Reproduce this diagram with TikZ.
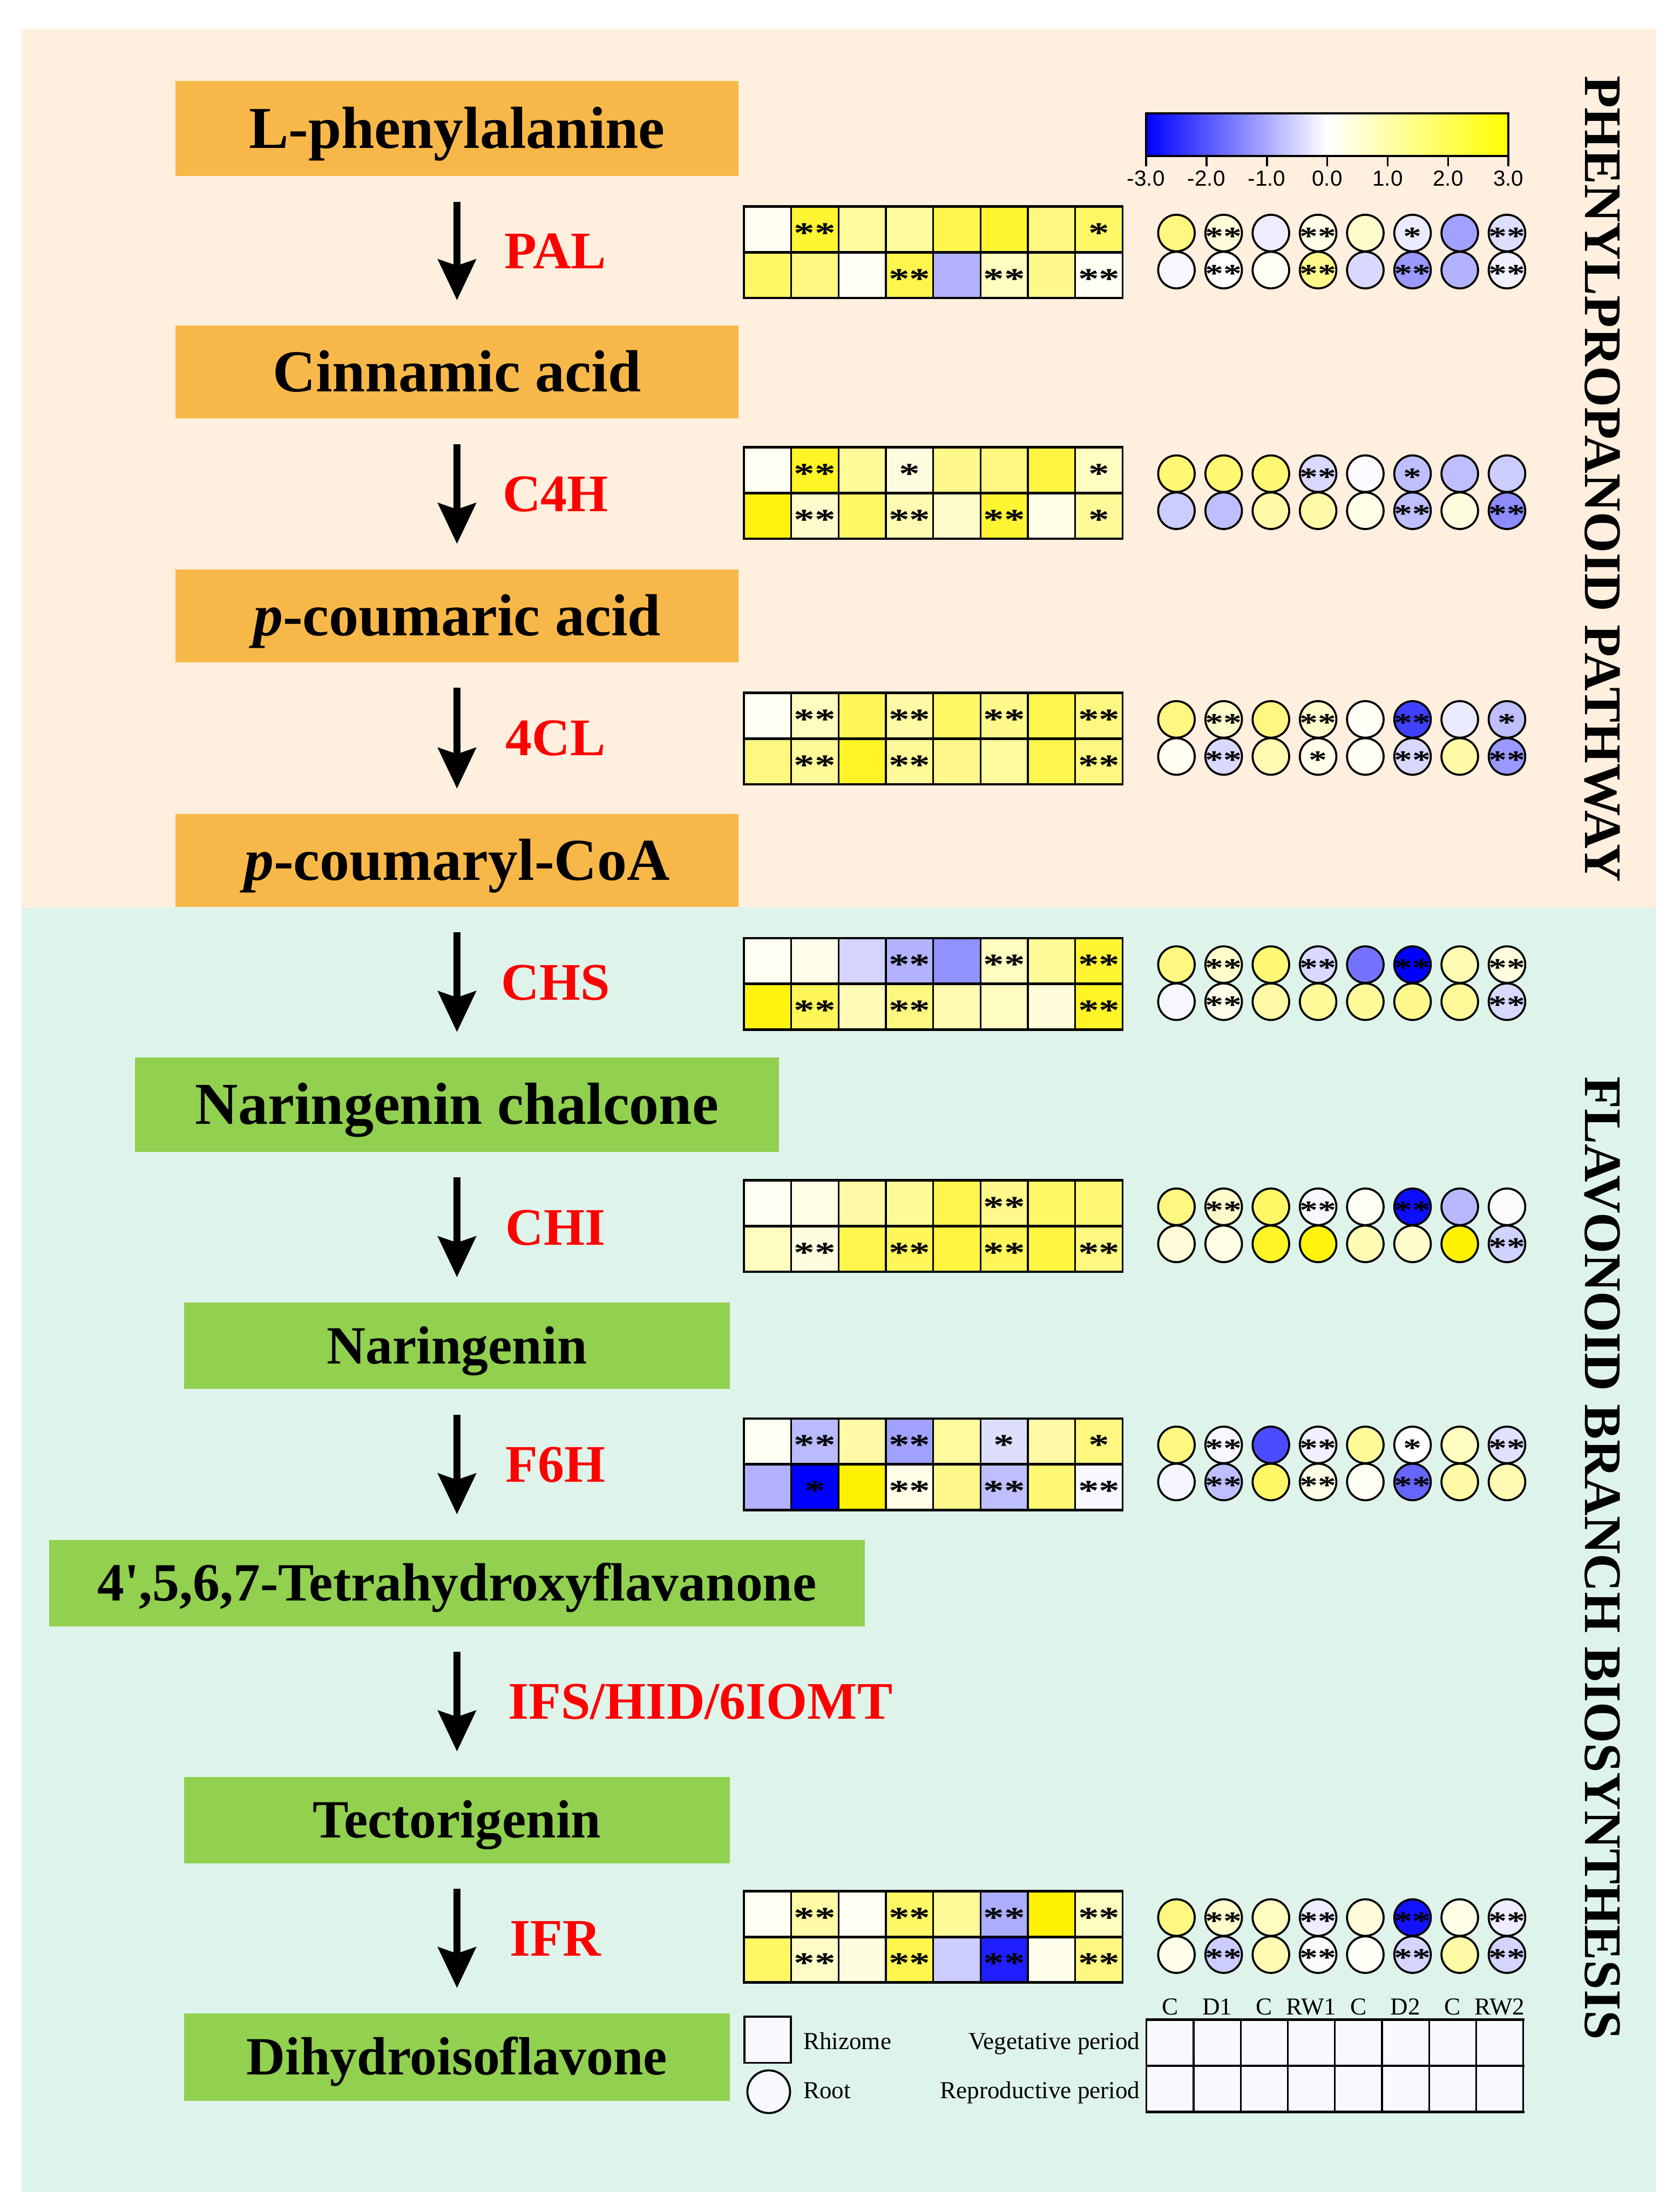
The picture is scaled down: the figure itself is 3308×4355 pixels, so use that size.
\documentclass[tikz,border=0pt]{standalone}
\usepackage{fontspec}
\setmainfont{Liberation Serif}
\setsansfont{Liberation Sans}
\usetikzlibrary{arrows.meta}
\definecolor{beige}{RGB}{254,239,222}
\definecolor{mint}{RGB}{222,244,235}
\definecolor{orangebox}{RGB}{248,184,73}
\definecolor{greenbox}{RGB}{146,208,80}
\definecolor{lav}{RGB}{248,248,255}
\newcommand\hmcolor[1]{\ifnum#1<0 \edef\hmtmp{\the\numexpr0-(#1)\relax}\colorlet{cc}{blue!\hmtmp!white}\else\colorlet{cc}{yellow!#1!white}\fi}
\newcommand\hmstars[1]{\scalebox{1}[0.7]{\ifcase#1\or*\or**\fi}}
\newcommand\hmrow[3]{\foreach \v/\s [count=\i from 0] in {#3}{\hmcolor{\v}\path[cellbox,fill=cc] ({1465+93.25*\i},{#2}) rectangle ++(93.25,90);\ifnum\s>0 \node[astk] (#1-\i) at ({1465+93.25*\i+46.6},{#2+45+26}) {\hmstars{\s}};\fi}}
\newcommand\cirow[3]{\foreach \v/\s [count=\i from 0] in {#3}{\hmcolor{\v}\path[cirbox,fill=cc] ({2317+93*\i},{#2}) circle[radius=36];\ifnum\s>0 \node[castk] (#1-\i) at ({2317+93*\i},{#2+23}) {\hmstars{\s}};\fi}}
\newcommand\hmblock[6]{%
  \hmrow{#1h1}{#2}{#3}\hmrow{#1h2}{#2+90}{#4}%
  \draw[line width=5bp] (1463,{#2}) -- (2213,{#2}) (1463,{#2+90}) -- (2213,{#2+90}) (1463,{#2+180}) -- (2213,{#2+180});%
  \cirow{#1c1}{#2+52}{#5}\cirow{#1c2}{#2+125}{#6}}
\begin{document}
\begin{tikzpicture}[x=1bp,y=-1bp,
  cellbox/.style={draw=black,line width=3.5bp},
  cirbox/.style={draw=black,line width=4bp},
  astk/.style={anchor=base,inner sep=0pt,font=\bfseries\fontsize{82bp}{82bp}\selectfont},
  castk/.style={anchor=base,inner sep=0pt,font=\bfseries\fontsize{72bp}{72bp}\selectfont},
  obox/.style={fill=orangebox,minimum width=1109bp,inner sep=0pt,font=\bfseries\fontsize{117bp}{117bp}\selectfont,text height=77bp,text depth=0bp},
  gbox/.style={fill=greenbox,inner sep=0pt,font=\bfseries\fontsize{106bp}{106bp}\selectfont,text height=70bp,text depth=0bp},
  arr/.style={line width=14bp,-{Stealth[length=80bp,width=74bp,inset=12bp]},shorten <=50bp,shorten >=50bp},
  lab/.style={midway,text=red,inner sep=0pt,font=\bfseries\fontsize{104bp}{104bp}\selectfont,text height=69bp,text depth=0bp},
  labc/.style={lab,xshift=194bp},
  side/.style={rotate=-90,inner sep=0pt,font=\bfseries\fontsize{104bp}{104bp}\selectfont},
  cbl/.style={inner sep=0pt,font=\sffamily\fontsize{43bp}{43bp}\selectfont},
  lgt/.style={inner sep=0pt,font=\fontsize{48bp}{48bp}\selectfont},
  colt/.style={anchor=base,inner sep=0pt,font=\fontsize{48bp}{48bp}\selectfont}]
\useasboundingbox (0,0) rectangle (3308,4355);
\fill[white] (0,0) rectangle (3308,4355);
\fill[beige] (42,57) rectangle (3262,1787);
\fill[mint] (42,1787) rectangle (3262,4318);

% pathway boxes
\node[obox,minimum height=188bp] (n1) at (900,253) {L-phenylalanine};
\node[obox,minimum height=183bp] (n2) at (900,733) {Cinnamic acid};
\node[obox,minimum height=183bp] (n3) at (900,1213) {\textit{p}-coumaric acid};
\node[obox,minimum height=183bp] (n4) at (900,1695) {\textit{p}-coumaryl-CoA};
\node[gbox,minimum width=1269bp,minimum height=186bp,font=\bfseries\fontsize{117bp}{117bp}\selectfont,text height=77bp] (n5) at (900,2176) {Naringenin chalcone};
\node[gbox,minimum width=1075bp,minimum height=170bp] (n6) at (900,2651) {Naringenin};
\node[gbox,minimum width=1606bp,minimum height=170bp] (n7) at (900,3118) {4\textquotesingle,5,6,7-Tetrahydroxyflavanone};
\node[gbox,minimum width=1075bp,minimum height=170bp] (n8) at (900,3585) {Tectorigenin};
\node[gbox,minimum width=1075bp,minimum height=172bp] (n9) at (900,4052) {Dihydroisoflavone};

% arrows with enzymes
\draw[arr] (n1) -- node[labc] (e1) {PAL} (n2);
\draw[arr] (n2) -- node[labc] (e2) {C4H} (n3);
\draw[arr] (n3) -- node[labc] (e3) {4CL} (n4);
\draw[arr] (n4) -- node[labc] (e4) {CHS} (n5);
\draw[arr] (n5) -- node[labc] (e5) {CHI} (n6);
\draw[arr] (n6) -- node[labc] (e6) {F6H} (n7);
\draw[arr] (n7) -- node[lab,anchor=west,xshift=94bp] (e7) {IFS/HID/6IOMT} (n8);
\draw[arr] (n8) -- node[labc] (e8) {IFR} (n9);

% side titles
\node[side] (t1) at (3156,943) {PHENYLPROPANOID PATHWAY};
\node[side] (t2) at (3156,3069) {FLAVONOID BRANCH BIOSYNTHESIS};

% colour bar
\shade[left color=blue,right color=yellow,middle color=white] (2257,223) rectangle (2971,307);
\draw[line width=4bp] (2257,223) rectangle (2971,307);
\foreach \t [count=\k from 0] in {-3.0,-2.0,-1.0,0.0,1.0,2.0,3.0}{
  \draw[line width=4bp] ({2257+119*\k},309) -- ({2257+119*\k},328);
  \node[cbl] (cb\k) at ({2257+119*\k},351) {\t};}

% heat maps
\hmblock{pal}{407}
 {6/0,80/2,38/0,38/0,70/0,80/0,50/0,60/1}
 {60/0,50/0,5/0,70/2,-30/0,25/2,45/0,5/2}
 {50/0,15/2,-7/0,10/2,20/0,-8/1,-37/0,-13/2}
 {-3/0,0/2,5/0,45/2,-15/0,-40/2,-30/0,-6/2}
\hmblock{cfh}{881}
 {5/0,85/2,40/0,12/1,45/0,50/0,75/0,25/1}
 {95/0,20/2,60/0,30/2,20/0,80/2,10/0,40/1}
 {55/0,55/0,55/0,-15/2,-2/0,-25/1,-25/0,-20/0}
 {-20/0,-25/0,35/0,35/0,10/0,-25/2,12/0,-45/2}
\hmblock{fcl}{1365}
 {5/0,25/2,65/0,35/2,60/0,45/2,70/0,50/2}
 {50/0,40/2,85/0,40/2,45/0,38/0,70/0,50/2}
 {50/0,20/2,50/0,20/2,3/0,-75/2,-8/0,-25/1}
 {6/0,-15/2,30/0,8/1,5/0,-15/2,35/0,-40/2}
\hmblock{chs}{1848}
 {5/0,7/0,-17/0,-30/2,-43/0,25/2,40/0,80/2}
 {95/0,65/2,28/0,50/2,30/0,25/0,15/0,85/2}
 {50/0,20/2,55/0,-15/2,-55/0,-100/2,30/0,12/2}
 {-3/0,8/2,35/0,40/0,40/0,45/0,40/0,-15/2}
\hmblock{chi}{2325}
 {5/0,10/0,35/0,40/0,70/0,45/2,60/0,55/0}
 {25/0,12/2,70/0,65/2,75/0,65/2,75/0,50/2}
 {50/0,20/2,60/0,-3/2,5/0,-95/2,-28/0,-1/0}
 {15/0,10/0,85/0,95/0,30/0,20/0,100/0,-18/2}
\hmblock{fsh}{2794}
 {5/0,-27/2,35/0,-37/2,38/0,-13/1,35/0,50/1}
 {-30/0,-100/1,100/0,10/2,45/0,-25/2,55/0,-3/2}
 {50/0,-3/2,-70/0,-6/2,40/0,0/1,25/0,-12/2}
 {-4/0,-25/2,60/0,10/2,5/0,-60/2,35/0,30/0}
\hmblock{ifr}{3725}
 {5/0,35/2,5/0,60/2,40/0,-32/2,100/0,25/2}
 {60/0,22/2,12/0,70/2,-20/0,-88/2,8/0,50/2}
 {50/0,20/2,25/0,-7/2,15/0,-93/2,10/0,-7/2}
 {8/0,-20/2,30/0,-1/2,3/0,-17/2,35/0,-17/2}

% legend
\path[draw=black,line width=4bp,fill=lav] (1466,3972) rectangle (1558,4063);
\path[draw=black,line width=4bp,fill=lav] (1514,4120) circle[radius=42];
\node[lgt,anchor=base west] (lrh) at (1582,4037) {Rhizome};
\node[lgt,anchor=base west] (lro) at (1582,4133) {Root};
\node[lgt,anchor=base east] (lve) at (2245,4037) {Vegetative period};
\node[lgt,anchor=base east] (lre) at (2245,4133) {Reproductive period};
\foreach \c [count=\k from 0] in {C,D1,C,RW1,C,D2,C,RW2}{
  \path[draw=black,line width=3.5bp,fill=lav] ({2258+92.75*\k},3978) rectangle ++(92.75,91);
  \path[draw=black,line width=3.5bp,fill=lav] ({2258+92.75*\k},4069) rectangle ++(92.75,91);
  \node[colt] (lc\k) at ({2258+92.75*\k+46.4},3968) {\c};}
\draw[line width=5bp] (2256,3978) -- (3002,3978) (2256,4069) -- (3002,4069) (2256,4160) -- (3002,4160);
\end{tikzpicture}
\end{document}
